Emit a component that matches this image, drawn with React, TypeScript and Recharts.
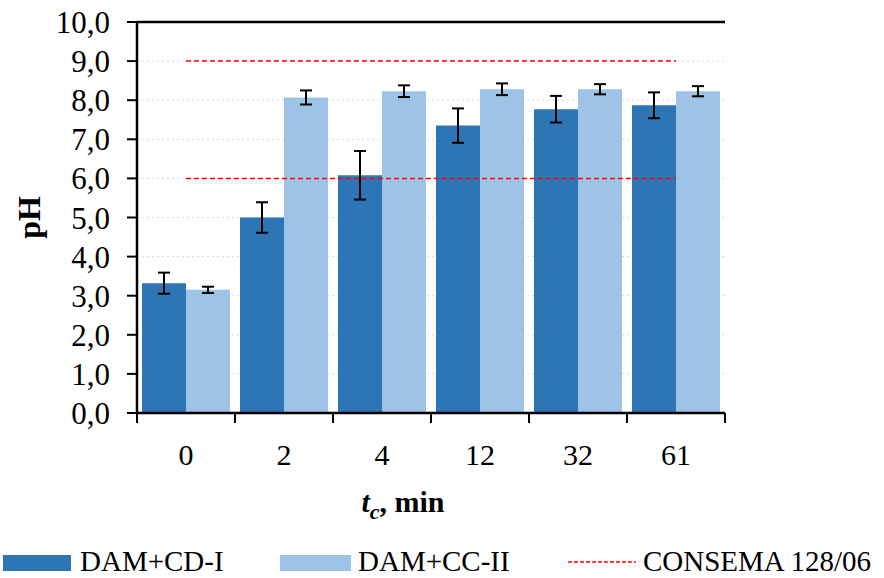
import * as React from 'react';
import {
  ComposedChart,
  Bar,
  Line,
  ErrorBar,
  XAxis,
  YAxis,
  CartesianGrid,
  ReferenceLine,
  Legend,
} from 'recharts';

const categories = ['0', '2', '4', '12', '32', '61'];
const damCdI = [3.32, 5.0, 6.08, 7.35, 7.77, 7.87];
const damCdIErr = [0.27, 0.39, 0.62, 0.44, 0.34, 0.33];
const damCcII = [3.15, 8.07, 8.23, 8.28, 8.28, 8.23];
const damCcIIErr = [0.08, 0.18, 0.15, 0.15, 0.13, 0.13];
const consemaMax = [9, 9, 9, 9, 9, 9];
const consemaMin = [6, 6, 6, 6, 6, 6];
const yTicks = [0, 1, 2, 3, 4, 5, 6, 7, 8, 9, 10];

const data = categories.map((t, i) => ({
  t,
  dam: damCdI[i],
  damErr: damCdIErr[i],
  cc: damCcII[i],
  ccErr: damCcIIErr[i],
  hi: consemaMax[i],
  lo: consemaMin[i],
}));

const W = 884;
const H = 578;
const LEFT = 137;
const RIGHT = 159;
const PLOT_W = W - LEFT - RIGHT;
const HALF_BAND = PLOT_W / categories.length / 2;
const FONT = '"Liberation Serif", "Times New Roman", serif';
const DARK = '#2E75B6';
const LIGHT = '#9DC3E6';
const RED = '#FF0000';

function XTick(props: any) {
  const { x, y, payload, index } = props;
  const last = index === categories.length - 1;
  return (
    <g>
      <line x1={x - HALF_BAND} x2={x - HALF_BAND} y1={y} y2={y + 10} stroke="#000" strokeWidth={2} />
      {last && (
        <line x1={x + HALF_BAND} x2={x + HALF_BAND} y1={y} y2={y + 10} stroke="#000" strokeWidth={2} />
      )}
      <text x={x} y={y + 52} textAnchor="middle" fontFamily={FONT} fontSize={30} fill="#000">
        {payload.value}
      </text>
    </g>
  );
}

function XLabel(props: any) {
  const vb = props.viewBox;
  const cx = vb.x + vb.width / 2 - 28;
  return (
    <text x={cx} y={vb.y + 99} textAnchor="middle" fontFamily={FONT} fontSize={30} fontWeight="bold" fill="#000">
      <tspan fontStyle="italic">t</tspan>
      <tspan fontStyle="italic" fontSize={22} dy={7}>c</tspan>
      <tspan dy={-7}>, min</tspan>
    </text>
  );
}

function YLabel(props: any) {
  const vb = props.viewBox;
  const x = 29;
  const y = vb.y + vb.height / 2;
  return (
    <text
      x={x}
      y={y}
      transform={`rotate(-90, ${x}, ${y})`}
      textAnchor="middle"
      dominantBaseline="central"
      fontFamily={FONT}
      fontSize={32}
      fontWeight="bold"
      fill="#000"
    >
      pH
    </text>
  );
}

// legend drawn as one svg row so the items sit where the reference has them
function LegendBox() {
  const txt = { fontFamily: FONT, fontSize: 29, fill: '#000' };
  return (
    <svg width={W} height={40} style={{ overflow: 'visible', display: 'block' }}>
      <rect x={3} y={17} width={68} height={16} fill={DARK} />
      <text x={80} y={33} {...txt}>DAM+CD-I</text>
      <rect x={280} y={17} width={71} height={16} fill={LIGHT} />
      <text x={358} y={33} {...txt}>DAM+CC-II</text>
      <line x1={568} x2={636} y1={24} y2={24} stroke={RED} strokeWidth={1.5} strokeDasharray="4 2" />
      <text x={643} y={33} {...txt}>CONSEMA 128/06</text>
    </svg>
  );
}

export default function App() {
  return (
    <div style={{ width: W, height: H }}>
      <style>{'body{margin:0}'}</style>
      <ComposedChart
        width={W}
        height={H}
        data={data}
        margin={{ top: 22, right: RIGHT, bottom: 0, left: 0 }}
        barGap={0}
        barCategoryGap={5}
      >
        <CartesianGrid vertical={false} stroke="#d9d9d9" strokeDasharray="2 3" />
        <XAxis
          dataKey="t"
          type="category"
          height={125}
          tickLine={false}
          tickSize={0}
          tickMargin={0}
          axisLine={{ stroke: '#000', strokeWidth: 2.5 }}
          tick={<XTick />}
          label={<XLabel />}
        />
        <YAxis
          domain={[0, 10]}
          ticks={yTicks}
          width={LEFT}
          tickSize={10}
          tickMargin={17}
          tickLine={{ stroke: '#000', strokeWidth: 2 }}
          axisLine={{ stroke: '#000', strokeWidth: 2.5 }}
          tick={{ fill: '#000', fontFamily: FONT, fontSize: 31 }}
          tickFormatter={(v: number) => v.toFixed(1).replace('.', ',')}
          interval={0}
          label={<YLabel />}
        />
        <YAxis
          yAxisId="frame"
          orientation="right"
          domain={[0, 10]}
          width={0}
          tick={false}
          tickLine={false}
          axisLine={{ stroke: '#000', strokeWidth: 1.5 }}
        />
        <ReferenceLine y={10} stroke="#000" strokeWidth={2.5} />
        <Bar dataKey="dam" fill={DARK} isAnimationActive={false}>
          <ErrorBar dataKey="damErr" width={6} stroke="#000" strokeWidth={2} direction="y" />
        </Bar>
        <Bar dataKey="cc" fill={LIGHT} isAnimationActive={false}>
          <ErrorBar dataKey="ccErr" width={6} stroke="#000" strokeWidth={2} direction="y" />
        </Bar>
        <Line
          dataKey="hi"
          stroke={RED}
          strokeWidth={1.5}
          strokeDasharray="5 3"
          dot={false}
          activeDot={false}
          isAnimationActive={false}
        />
        <Line
          dataKey="lo"
          stroke={RED}
          strokeWidth={1.5}
          strokeDasharray="5 3"
          dot={false}
          activeDot={false}
          isAnimationActive={false}
        />
        <Legend verticalAlign="bottom" content={<LegendBox />} />
      </ComposedChart>
    </div>
  );
}
